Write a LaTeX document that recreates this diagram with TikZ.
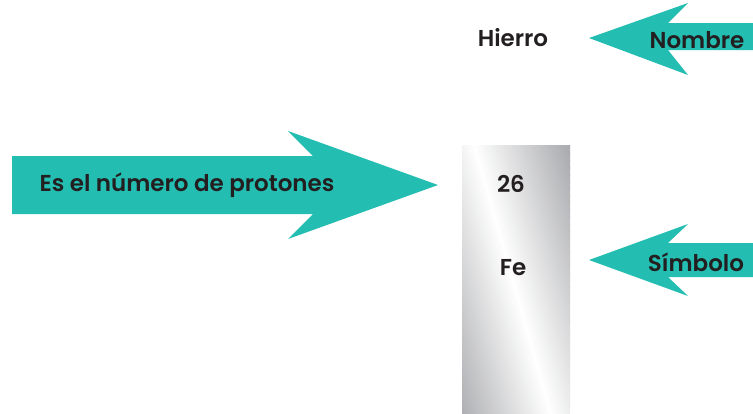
\documentclass[tikz,border=0pt]{standalone}
\usepackage{fontspec}
\setmainfont{Poppins}[UprightFont=* SemiBold, BoldFont=* SemiBold]
\definecolor{tealA}{HTML}{23BDB1}
\definecolor{inkA}{HTML}{231F20}
\definecolor{grayA}{HTML}{ACADB0}
\begin{document}
\begin{tikzpicture}[x=1pt,y=-1pt,
  lbl/.style={font=\fontsize{23}{23}\selectfont, text=inkA, inner sep=0pt},
  arrowshape/.style={fill=tealA, draw=none}]
\useasboundingbox (0,0) rectangle (753,413);
% metallic tile: diagonal strips, white streak through (474,145)-(551,413)
\begin{scope}
  \clip (462,145) rectangle (570,413);
  \foreach \i in {0,...,96} {
    \pgfmathsetmacro\xa{383+2*\i}
    \pgfmathsetmacro\p{max(0,100-100*abs(\xa+1-474)/92)}
    \fill[white!\p!grayA] (\xa,144) -- (\xa+2.6,144) -- (\xa+79.6,414) -- (\xa+77,414) -- cycle;
  }
\end{scope}
% arrows
\fill[arrowshape] (589,38) -- (688,3) -- (668,23) -- (753,23) -- (753,50) -- (668,50) -- (688,75) -- cycle;
\fill[arrowshape] (589,260) -- (688,224) -- (668,243) -- (753,243) -- (753,277) -- (668,277) -- (688,296) -- cycle;
\fill[arrowshape] (12,156) -- (313,156) -- (288,131) -- (438,185) -- (288,239) -- (313,214) -- (12,214) -- cycle;
% labels
\node[lbl] (name) at (513,38) {Hierro};
\node[lbl] (nombre) at (697,40) {Nombre};
\node[lbl] (simbolo) at (696,262) {Símbolo};
\node[lbl] (protones) at (187,185) {Es el número de protones};
\node[lbl] (num) at (511,184) {26};
\node[lbl] (sym) at (513,268) {Fe};
\end{tikzpicture}
\end{document}
